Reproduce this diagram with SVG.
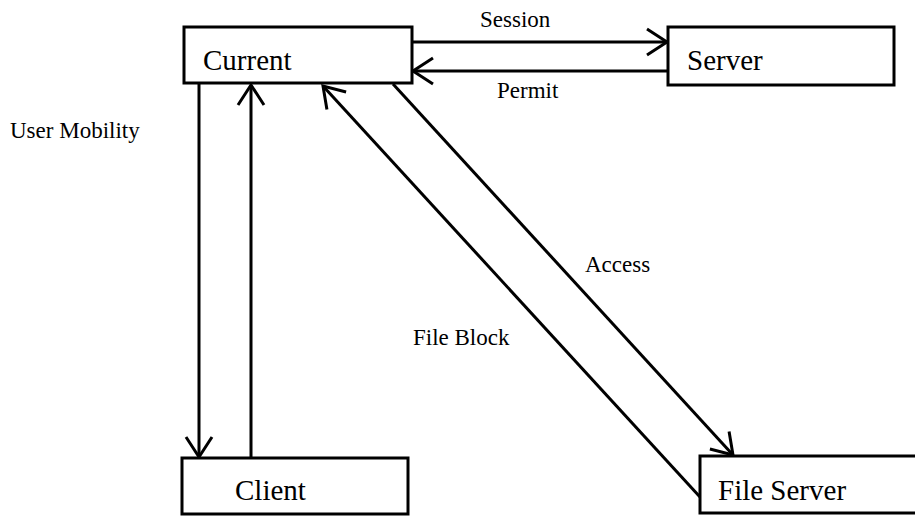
<svg xmlns="http://www.w3.org/2000/svg" width="915" height="516" viewBox="0 0 915 516">
  <style>
    .box { fill: #ffffff; stroke: #000000; stroke-width: 3; }
    .node-label { font-family: "Liberation Serif", "Times New Roman", serif; font-size: 29px; fill: #000000; }
    .edge-label { font-family: "Liberation Serif", "Times New Roman", serif; font-size: 23px; fill: #000000; }
    .link { fill: none; stroke: #000000; stroke-width: 3; marker-end: url(#open-arrow); }
  </style>
  <defs>
    <!-- open V-shaped arrowhead -->
    <marker id="open-arrow" markerUnits="userSpaceOnUse" viewBox="0 0 22 30" refX="21" refY="15" markerWidth="22" markerHeight="30" orient="auto" overflow="visible">
      <path d="M1,2 L21,15 L1,28" fill="none" stroke="#000000" stroke-width="3" stroke-linejoin="miter"/>
    </marker>
  </defs>

  <rect width="915" height="516" fill="#ffffff"/>

  <g id="connectors">
    <line class="link" x1="412" y1="42" x2="667" y2="42"/>
    <line class="link" x1="668" y1="71" x2="413" y2="71"/>
    <line class="link" x1="199" y1="84" x2="199" y2="457"/>
    <line class="link" x1="251" y1="458" x2="251" y2="85"/>
    <line class="link" x1="393" y1="84" x2="733" y2="455"/>
    <line class="link" x1="700" y1="497" x2="323" y2="86"/>
  </g>

  <g id="node-current">
    <rect class="box" x="184" y="27" width="228" height="56"/>
    <text class="node-label" x="203" y="70">Current</text>
  </g>

  <g id="node-server">
    <rect class="box" x="668" y="27" width="226" height="58"/>
    <text class="node-label" x="687" y="70">Server</text>
  </g>

  <g id="node-client">
    <rect class="box" x="182" y="458" width="226" height="56"/>
    <text class="node-label" x="235" y="500">Client</text>
  </g>

  <g id="node-file-server">
    <rect class="box" x="700" y="456" width="220" height="57"/>
    <text class="node-label" x="718" y="500">File Server</text>
  </g>

  <g id="labels">
    <text class="edge-label" x="480" y="27">Session</text>
    <text class="edge-label" x="497" y="98">Permit</text>
    <text class="edge-label" x="10" y="138">User Mobility</text>
    <text class="edge-label" x="585" y="272">Access</text>
    <text class="edge-label" x="413" y="345">File Block</text>
  </g>
</svg>
